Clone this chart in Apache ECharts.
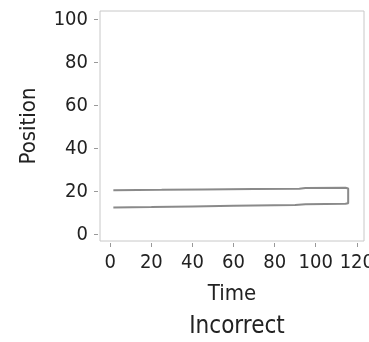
<!DOCTYPE html>
<html>
<head>
<meta charset="utf-8">
<script src="https://cdn.jsdelivr.net/npm/echarts@6/dist/echarts.min.js"></script>
<style>
  html, body { margin: 0; padding: 0; background: #fff; }
  #chart { width: 369px; height: 342px; }
</style>
</head>
<body>
<div id="chart"></div>
<script>
// Trajectory: forward along the upper track, then back along the lower one
const times = [1.5, 25, 45, 70, 92, 95, 114.5, 115.8, 115.8, 114.5, 95, 90, 60, 40, 20, 1.5];
const positions = [20.6, 20.8, 21.0, 21.2, 21.3, 21.7, 21.8, 21.4, 14.6, 14.3, 14.1, 13.7, 13.4, 13.1, 12.8, 12.6];

const xTicks = [0, 20, 40, 60, 80, 100, 120];
const yTicks = [0, 20, 40, 60, 80, 100];

const FONT = '"DejaVu Sans Condensed", "Liberation Sans Narrow", "Liberation Sans", sans-serif';

const chart = echarts.init(document.getElementById('chart'));
chart.setOption({
  backgroundColor: '#ffffff',
  animation: false,
  title: {
    text: 'Incorrect',
    left: 232,
    top: 310,
    textAlign: 'center',
    textStyle: { fontFamily: FONT, fontSize: 24, fontWeight: 'normal', color: '#222' }
  },
  grid: {
    left: 100, top: 11, right: 5, bottom: 101,
    outerBoundsMode: 'none',
    containLabel: false,
    show: true, borderColor: '#c8c8c8', borderWidth: 1
  },
  xAxis: {
    type: 'value',
    min: -5, max: 123.5,
    offset: 2,
    name: 'Time',
    nameLocation: 'middle',
    nameGap: 40,
    nameTextStyle: { fontFamily: FONT, fontSize: 22, color: '#222' },
    axisLine: { show: false, onZero: false },
    splitLine: { show: false },
    axisTick: { show: true, length: 4, lineStyle: { color: '#999' }, customValues: xTicks },
    axisLabel: { margin: 10, fontFamily: FONT, fontSize: 20, color: '#222', customValues: xTicks }
  },
  yAxis: {
    type: 'value',
    min: -3, max: 104,
    offset: 2,
    name: 'Position',
    nameLocation: 'middle',
    nameGap: 58,
    nameTextStyle: { fontFamily: FONT, fontSize: 22, color: '#222' },
    axisLine: { show: false, onZero: false },
    splitLine: { show: false },
    axisTick: { show: true, length: 4, lineStyle: { color: '#999' }, customValues: yTicks },
    axisLabel: { margin: 10, fontFamily: FONT, fontSize: 20, color: '#222', customValues: yTicks }
  },
  series: [{
    type: 'line',
    data: times.map((t, i) => [t, positions[i]]),
    showSymbol: false,
    lineStyle: { color: '#8a8a8a', width: 2 }
  }]
});
</script>
</body>
</html>
